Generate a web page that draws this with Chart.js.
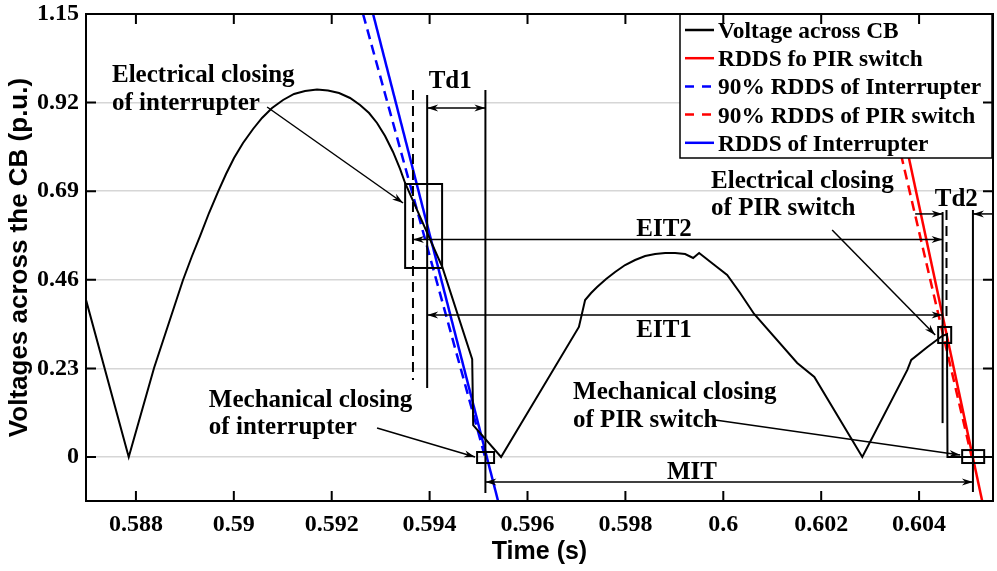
<!DOCTYPE html>
<html>
<head>
<meta charset="utf-8">
<title>Voltage across CB</title>
<script src="https://cdn.jsdelivr.net/npm/chart.js@4.4.1/dist/chart.umd.min.js"></script>
<style>
  html, body { margin: 0; padding: 0; background: #fff; }
  #wrap { width: 997px; height: 571px; }
</style>
</head>
<body>
<div id="wrap"><canvas id="cbChart"></canvas></div>
<script>
// Voltage across the circuit breaker during closing
const timeS = [0.58698, 0.587853, 0.58837, 0.588962, 0.589146, 0.58931, 0.589493, 0.589677,
    0.589841, 0.590004, 0.590188, 0.590393, 0.590576, 0.590781, 0.591006, 0.59123, 0.591455,
    0.5917, 0.591925, 0.59215, 0.592375, 0.592579, 0.592763, 0.592926, 0.59309, 0.593253,
    0.593396, 0.593499, 0.59426, 0.59487, 0.59489, 0.59546, 0.59705, 0.597177, 0.597299,
    0.597422, 0.597606, 0.59779, 0.597994, 0.598198, 0.598403, 0.598607, 0.598812, 0.599016,
    0.59922, 0.599384, 0.599506, 0.599792, 0.600079, 0.600344, 0.60063, 0.60151, 0.60186,
    0.60284, 0.60376, 0.60384, 0.60417, 0.60447, 0.60457, 0.60458, 0.60551];
const voltagePU = [0.408, 0, 0.231, 0.4595, 0.5218, 0.5737, 0.6334, 0.688,
    0.7347, 0.7762, 0.8152, 0.8515, 0.8801, 0.906, 0.9268, 0.9424, 0.9502,
    0.954, 0.9515, 0.945, 0.932, 0.9138, 0.893, 0.8671, 0.8333, 0.7918,
    0.7477, 0.7113, 0.493, 0.254, 0.083, 0, 0.3375, 0.4076, 0.4258,
    0.4413, 0.4621, 0.4803, 0.4984, 0.5114, 0.5218, 0.527, 0.5296, 0.5296,
    0.527, 0.5166, 0.5296, 0.501, 0.4725, 0.4258, 0.3712, 0.244, 0.2077,
    0, 0.226, 0.252, 0.2856, 0.314, 0.319, 0, 0];

// RDDS lines (end points)
const rddsIntT = [0.592845, 0.595399];
const rddsIntV = [1.15, -0.1142];
const rdds90IntT = [0.59264, 0.595133];
const rdds90IntV = [1.15, 0];
const rddsPirT = [0.603164, 0.605289];
const rddsPirV = [1.15, -0.1142];
const rdds90PirT = [0.60296, 0.605075];
const rdds90PirV = [1.15, 0];

const xTicks = [0.588, 0.59, 0.592, 0.594, 0.596, 0.598, 0.6, 0.602, 0.604];
const yTicks = [0, 0.23, 0.46, 0.69, 0.92, 1.15];

// closing instants (s)
const tElec90Int = 0.59366;
const tElecInt = 0.59395;
const tMechInt = 0.59514;
const tElecPir = 0.60448;
const tElec90Pir = 0.60456;
const tMechPir = 0.6051;

const SERIF_FAMILY = '"Liberation Serif", "Times New Roman", serif';
const SANS = '"Liberation Sans", Arial, sans-serif';

function toPoints(xs, ys) {
    return xs.map((t, i) => ({ x: t, y: ys[i] }));
}

function lineSet(label, xs, ys, color, width, dash) {
    return {
        label: label,
        data: toPoints(xs, ys),
        borderColor: color,
        borderWidth: width,
        borderDash: dash || [],
        pointRadius: 0,
        tension: 0,
        fill: false
    };
}

const datasets = [
    lineSet('Voltage across CB', timeS, voltagePU, '#000000', 2),
    lineSet('RDDS fo PIR switch', rddsPirT, rddsPirV, '#ff0000', 2.5),
    lineSet('90% RDDS of Interrupter', rdds90IntT, rdds90IntV, '#0000ff', 2.5, [10, 6]),
    lineSet('90% RDDS of PIR switch', rdds90PirT, rdds90PirV, '#ff0000', 2.5, [10, 6]),
    lineSet('RDDS of Interrupter', rddsIntT, rddsIntV, '#0000ff', 2.5)
];

function arrowHead(ctx, x1, y1, x2, y2) {
    const a = Math.atan2(y2 - y1, x2 - x1);
    const len = 11, half = 3.5;
    ctx.beginPath();
    ctx.moveTo(x2, y2);
    ctx.lineTo(x2 - len * Math.cos(a) + half * Math.sin(a), y2 - len * Math.sin(a) - half * Math.cos(a));
    ctx.lineTo(x2 - 0.7 * len * Math.cos(a), y2 - 0.7 * len * Math.sin(a));
    ctx.lineTo(x2 - len * Math.cos(a) - half * Math.sin(a), y2 - len * Math.sin(a) + half * Math.cos(a));
    ctx.closePath();
    ctx.fill();
}

function arrow(ctx, x1, y1, x2, y2, both) {
    ctx.beginPath();
    ctx.moveTo(x1, y1);
    ctx.lineTo(x2, y2);
    ctx.stroke();
    arrowHead(ctx, x1, y1, x2, y2);
    if (both) arrowHead(ctx, x2, y2, x1, y1);
}

// time markers, arrows, boxes and notes drawn over the curves
const annotationPlugin = {
    id: 'cbAnnotations',
    afterDatasetsDraw(chart) {
        const { ctx, chartArea: area, scales } = chart;
        const px = t => scales.x.getPixelForValue(t);
        const py = v => scales.y.getPixelForValue(v);

        ctx.save();
        ctx.beginPath();
        ctx.rect(area.left, area.top, area.width, area.height);
        ctx.clip();
        ctx.strokeStyle = '#000';
        ctx.fillStyle = '#000';

        // vertical markers
        const verticals = [
            [tElec90Int, 0.953, 0.2, true],
            [tElecInt, 0.94, 0.179, false],
            [tMechInt, 0.953, -0.0935, false],
            [tElecPir, 0.636, 0.088, false],
            [tElec90Pir, 0.641, 0.363, true],
            [tMechPir, 0.641, -0.091, false]
        ];
        ctx.lineWidth = 2;
        verticals.forEach(([t, v0, v1, dashed]) => {
            ctx.setLineDash(dashed ? [10, 6] : []);
            ctx.beginPath();
            ctx.moveTo(px(t), py(v0));
            ctx.lineTo(px(t), py(v1));
            ctx.stroke();
        });
        ctx.setLineDash([]);

        // interval arrows
        ctx.lineWidth = 1.5;
        arrow(ctx, px(tElecInt), py(0.906), px(tMechInt), py(0.906), true);
        arrow(ctx, px(tElec90Int), py(0.5646), px(tElecPir), py(0.5646), true);
        arrow(ctx, px(tElecInt), py(0.3686), px(tElecPir), py(0.3686), true);
        arrow(ctx, px(tMechInt), py(-0.065), px(tMechPir), py(-0.065), true);
        arrow(ctx, px(0.60392), py(0.631), px(tElecPir), py(0.631), false);
        arrow(ctx, px(0.60551), py(0.631), px(tMechPir), py(0.631), false);

        // pointers from notes
        arrow(ctx, px(0.59068), py(0.9086), px(0.593458), py(0.6594), false);
        arrow(ctx, px(0.592926), py(0.0753), px(0.594929), py(0), false);
        arrow(ctx, px(0.602224), py(0.5893), px(0.604329), py(0.3167), false);
        arrow(ctx, px(0.599833), py(0.0961), px(0.60484), py(0.0052), false);

        // closing boxes
        const boxes = [
            [0.5935, 0.594255, 0.4907, 0.7087],
            [0.59497, 0.595317, -0.0156, 0.013],
            [0.60439, 0.604656, 0.296, 0.3375],
            [0.60488, 0.60533, -0.0156, 0.018]
        ];
        ctx.lineWidth = 2;
        boxes.forEach(([t0, t1, v0, v1]) => {
            ctx.strokeRect(px(t0), py(v1), px(t1) - px(t0), py(v0) - py(v1));
        });

        // notes
        ctx.font = 'bold 25px ' + SERIF_FAMILY;
        ctx.textBaseline = 'alphabetic';
        const notes = [
            ['Electrical closing', 0.587511, 0.9735, 'left'],
            ['of interrupter', 0.587511, 0.9008, 'left'],
            ['Td1', 0.59442, 0.958, 'center'],
            ['EIT2', 0.59879, 0.5737, 'center'],
            ['EIT1', 0.59879, 0.3115, 'center'],
            ['MIT', 0.59936, -0.0571, 'center'],
            ['Mechanical closing', 0.58949, 0.1298, 'left'],
            ['of interrupter', 0.58949, 0.0597, 'left'],
            ['Electrical closing', 0.59975, 0.6983, 'left'],
            ['of PIR switch', 0.59975, 0.6282, 'left'],
            ['Mechanical closing', 0.59693, 0.1506, 'left'],
            ['of PIR switch', 0.59693, 0.0779, 'left'],
            ['Td2', 0.60476, 0.6516, 'center']
        ];
        notes.forEach(([text, t, v, align]) => {
            ctx.textAlign = align;
            ctx.fillText(text, px(t), py(v));
        });
        ctx.restore();
    },
    afterDraw(chart) {
        const { ctx, chartArea: area, scales } = chart;
        ctx.save();

        // legend box, top right inside the axes
        const lx = area.right - 313, ly = area.top, lw = 312, lh = 144;
        ctx.fillStyle = '#fff';
        ctx.fillRect(lx, ly, lw, lh);
        ctx.strokeStyle = '#000';
        ctx.lineWidth = 1.5;
        ctx.strokeRect(lx, ly, lw, lh);
        ctx.font = 'bold 23.4px ' + SERIF_FAMILY;
        ctx.textAlign = 'left';
        ctx.textBaseline = 'alphabetic';
        chart.data.datasets.forEach((ds, i) => {
            const base = ly + 24 + i * 28.2;
            ctx.strokeStyle = ds.borderColor;
            ctx.lineWidth = 2.5;
            ctx.setLineDash(ds.borderDash.length ? [9, 8] : []);
            ctx.beginPath();
            ctx.moveTo(lx + 5, base - 8);
            ctx.lineTo(lx + 34, base - 8);
            ctx.stroke();
            ctx.setLineDash([]);
            ctx.fillStyle = '#000';
            ctx.fillText(ds.label, lx + 38, base);
        });

        // axes frame with inward ticks on all sides
        ctx.strokeStyle = '#000';
        ctx.lineWidth = 2;
        ctx.strokeRect(area.left, area.top, area.width, area.height);
        ctx.beginPath();
        xTicks.forEach(t => {
            const x = scales.x.getPixelForValue(t);
            ctx.moveTo(x, area.bottom); ctx.lineTo(x, area.bottom - 10);
            ctx.moveTo(x, area.top); ctx.lineTo(x, area.top + 10);
        });
        yTicks.forEach(v => {
            const y = scales.y.getPixelForValue(v);
            ctx.moveTo(area.left, y); ctx.lineTo(area.left + 10, y);
            ctx.moveTo(area.right, y); ctx.lineTo(area.right - 10, y);
        });
        ctx.stroke();
        ctx.restore();
    }
};

const tickLabel = v => String(Number(v.toFixed(3)));
const tickFont = { family: SERIF_FAMILY, size: 24, weight: 'bold' };

new Chart(document.getElementById('cbChart'), {
    type: 'line',
    data: { datasets: datasets },
    options: {
        responsive: true,
        maintainAspectRatio: false,
        animation: false,
        events: [],
        layout: { padding: { top: 14, right: 4, bottom: 0, left: 0 } },
        plugins: {
            legend: { display: false },
            tooltip: { enabled: false }
        },
        scales: {
            x: {
                type: 'linear',
                min: 0.58698,
                max: 0.60551,
                afterBuildTicks: axis => { axis.ticks = xTicks.map(v => ({ value: v })); },
                afterFit: axis => {
                    axis.height = 70;
                    axis.paddingLeft = 0;
                    axis.paddingRight = 0;
                },
                grid: { display: false, drawTicks: false },
                border: { display: false },
                ticks: {
                    autoSkip: false,
                    maxRotation: 0,
                    padding: 9,
                    color: '#000',
                    font: tickFont,
                    callback: tickLabel
                },
                title: {
                    display: true,
                    text: 'Time (s)',
                    color: '#000',
                    font: { family: SANS, size: 25, weight: 'bold' },
                    padding: { top: 0, bottom: 4 }
                }
            },
            y: {
                min: -0.1142,
                max: 1.15,
                afterBuildTicks: axis => { axis.ticks = yTicks.map(v => ({ value: v })); },
                afterFit: axis => {
                    axis.width = 86;
                    axis.paddingTop = 0;
                    axis.paddingBottom = 0;
                },
                grid: { color: '#d6d6d6', lineWidth: 1.5, drawTicks: false },
                border: { display: false },
                ticks: {
                    autoSkip: false,
                    padding: 7,
                    color: '#000',
                    font: tickFont,
                    callback: tickLabel
                },
                title: {
                    display: true,
                    text: 'Voltages across the CB (p.u.)',
                    color: '#000',
                    font: { family: SANS, size: 26, weight: 'bold' },
                    padding: { top: 4, bottom: 0 }
                }
            }
        }
    },
    plugins: [annotationPlugin]
});
</script>
</body>
</html>
